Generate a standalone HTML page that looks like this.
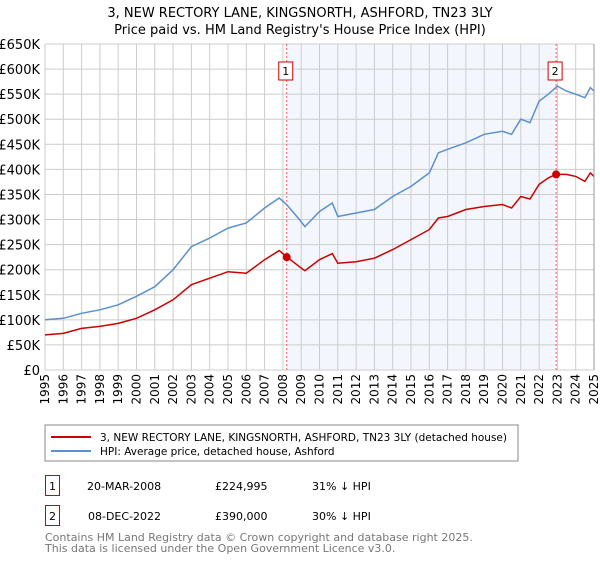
<!DOCTYPE html>
<html><head><meta charset="utf-8"><style>
body{margin:0;background:#fff;font-family:"Liberation Sans","DejaVu Sans",sans-serif;}
svg text{font-family:"DejaVu Sans","Liberation Sans",sans-serif;}
</style></head><body>
<svg id="c" width="600" height="560" xmlns="http://www.w3.org/2000/svg">
<text x="300" y="17" text-anchor="middle" font-size="13">3, NEW RECTORY LANE, KINGSNORTH, ASHFORD, TN23 3LY</text>
<text x="300" y="34" text-anchor="middle" font-size="13">Price paid vs. HM Land Registry's House Price Index (HPI)</text>
<g id="plot"></g>
<rect x="45" y="425" width="473" height="36" fill="#fff" stroke="#888"/>
<line x1="51" y1="437" x2="91" y2="437" stroke="#cc0000" stroke-width="2"/>
<text x="100" y="441" font-size="10.5">3, NEW RECTORY LANE, KINGSNORTH, ASHFORD, TN23 3LY (detached house)</text>
<line x1="51" y1="451" x2="91" y2="451" stroke="#5b8fd0" stroke-width="2"/>
<text x="100" y="455" font-size="10.5">HPI: Average price, detached house, Ashford</text>
<rect x="45.5" y="475.5" width="14" height="20" fill="#fff" stroke="#cc0000"/>
<text x="52.5" y="490" text-anchor="middle" font-size="11">1</text>
<text x="87" y="490" font-size="11">20-MAR-2008</text>
<text x="215" y="490" font-size="11">£224,995</text>
<text x="312" y="490" font-size="11">31% ↓ HPI</text>
<rect x="45.5" y="505.5" width="14" height="20" fill="#fff" stroke="#cc0000"/>
<text x="52.5" y="520" text-anchor="middle" font-size="11">2</text>
<text x="88" y="520" font-size="11">08-DEC-2022</text>
<text x="215" y="520" font-size="11">£390,000</text>
<text x="312" y="520" font-size="11">30% ↓ HPI</text>
<text x="45" y="541" font-size="11" fill="#777">Contains HM Land Registry data © Crown copyright and database right 2025.</text>
<text x="45" y="552" font-size="11" fill="#777">This data is licensed under the Open Government Licence v3.0.</text>
</svg>
<script>
const hpiYears=[1995,1996,1997,1998,1999,2000,2001,2002,2003,2004,2005,2006,2007,2007.8,2008.2,2008.9,2009.2,2010,2010.7,2011,2012,2013,2014,2015,2016,2016.5,2017,2018,2019,2020,2020.5,2021,2021.5,2022,2022.5,2023,2023.5,2024,2024.5,2024.8,2025];
const hpiValues=[100,103,113,120,130,147,166,200,246,263,283,293,323,343,330,300,286,316,333,306,313,320,346,366,393,433,440,453,470,476,470,500,493,536,550,566,556,550,543,563,556];
const propYears=[1995,1996,1997,1998,1999,2000,2001,2002,2003,2004,2005,2006,2007,2007.8,2008.2,2008.9,2009.2,2010,2010.7,2011,2012,2013,2014,2015,2016,2016.5,2017,2018,2019,2020,2020.5,2021,2021.5,2022,2022.5,2022.92,2023.5,2024,2024.5,2024.8,2025];
const propValues=[70,73,83,87,93,103,120,140,170,183,196,193,220,238,226,206,198,220,232,213,216,223,240,260,280,303,306,320,326,330,323,346,341,370,383,390,390,386,376,393,386];
const saleDates=[2008.21,2022.93];
const salePrices=[224.995,390];
const saleLabels=["1","2"];
const yTicks=[0,50,100,150,200,250,300,350,400,450,500,550,600,650];
const yTickLabels=["£0","£50K","£100K","£150K","£200K","£250K","£300K","£350K","£400K","£450K","£500K","£550K","£600K","£650K"];
const xTicks=[1995,1996,1997,1998,1999,2000,2001,2002,2003,2004,2005,2006,2007,2008,2009,2010,2011,2012,2013,2014,2015,2016,2017,2018,2019,2020,2021,2022,2023,2024,2025];

const X0=45,X1=594,Y0=370,Y1=44;
const xs=y=>X0+(y-1995)/30*(X1-X0);
const ys=v=>Y0-v/650*(Y0-Y1);
const NS="http://www.w3.org/2000/svg";
const g=document.getElementById('plot');
function mk(t,a){const e=document.createElementNS(NS,t);for(const k in a)e.setAttribute(k,a[k]);g.appendChild(e);return e;}
let e;
e=mk('rect',{x:xs(saleDates[0]),y:Y1,width:xs(saleDates[1])-xs(saleDates[0]),height:Y0-Y1,fill:'#eef3fc',opacity:0.7});


yTicks.forEach((v,i)=>{
 e=mk('line',{x1:X0,x2:X1,y1:ys(v),y2:ys(v),stroke:'#ccc'});
 
 
 e=mk('text',{x:40,y:ys(v)+5,'text-anchor':'end','font-size':13});
 e.textContent=yTickLabels[i];
 
 
});
xTicks.forEach(y=>{
 e=mk('line',{x1:xs(y),x2:xs(y),y1:Y1,y2:Y0,stroke:'#ccc'});
 
 
 e=mk('text',{x:0,y:0,'font-size':12,'text-anchor':'end',transform:`translate(${xs(y)+4},374) rotate(-90)`});
 e.textContent=y;
 
 
});
saleDates.forEach((d,i)=>{
 e=mk('line',{x1:xs(d),x2:xs(d),y1:Y1,y2:Y0,stroke:'#f06060','stroke-dasharray':'2,2'});
 
 
 e=mk('rect',{x:xs(d)-8,y:62,width:14,height:18,fill:'#fff',stroke:'#cc0000'});
 
 
 e=mk('text',{x:xs(d)-1,y:75,'text-anchor':'middle','font-size':11});
 e.textContent=saleLabels[i];
 
 
});
const path=(xa,va)=>xa.map((y,i)=>(i?'L':'M')+xs(y).toFixed(1)+','+ys(va[i]).toFixed(1)).join('');
e=mk('path',{d:path(hpiYears,hpiValues),fill:'none',stroke:'#5b8fd0','stroke-width':1.5});


e=mk('path',{d:path(propYears,propValues),fill:'none',stroke:'#cc0000','stroke-width':1.5});


saleDates.forEach((d,i)=>{
 e=mk('circle',{cx:xs(d),cy:ys(salePrices[i]),r:4,fill:'#cc0000'});
 
 
});
e=mk('line',{x1:X1,x2:X1,y1:Y1,y2:Y0,stroke:'#999'});


</script>
</body></html>
